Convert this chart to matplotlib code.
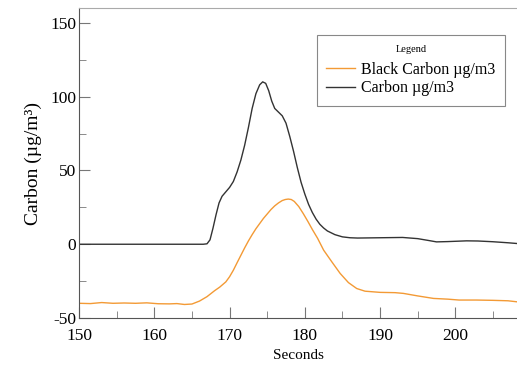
import matplotlib.pyplot as plt
from matplotlib.ticker import MultipleLocator

plt.rcParams['font.family'] = ['Liberation Serif', 'DejaVu Serif']
plt.rcParams['axes.unicode_minus'] = False

# Carbon ug/m3 (black)
carbon_t = [150, 155, 160, 165, 166.5, 167, 167.4, 167.8, 168.2, 168.6, 169, 169.5,
            170, 170.5, 171, 171.5, 172, 172.5, 173, 173.5, 174, 174.4, 174.8,
            175.2, 175.6, 176, 176.5, 177, 177.5, 178, 178.5, 179, 179.5, 180,
            180.5, 181, 181.5, 182, 182.5, 183, 184, 185, 186, 187, 190, 193,
            195, 196.5, 197.5, 199, 201.5, 203, 205, 207, 208.2]
carbon_v = [0, 0, 0, 0, 0, 0.3, 3, 11, 20, 28, 32.5, 35.5,
            38.5, 42.5, 49, 57, 67, 79, 92, 102, 108, 110, 109,
            104, 97, 92, 89.5, 87, 82, 73, 63, 52, 42, 34,
            27, 21.5, 17, 13.5, 11, 9, 6.5, 5, 4.4, 4.2, 4.4, 4.6,
            3.8, 2.5, 1.6, 1.8, 2.3, 2.2, 1.7, 1.0, 0.5]

# Black Carbon ug/m3 (orange)
bc_t = [150, 151.5, 153, 154.5, 156, 157.5, 159, 160.5, 162, 163, 164, 165,
        166, 167, 168, 168.7, 169.5, 170, 170.5, 171, 171.5, 172, 172.5, 173,
        173.5, 174, 174.5, 175, 175.5, 176, 176.5, 177, 177.4, 177.8, 178.2,
        178.6, 179.2, 179.8, 180.4, 181, 181.7, 182.5, 183.6, 184.7, 185.8,
        186.9, 188, 190, 192, 193.1, 195, 197.1, 199, 200.5, 202.8, 205, 207,
        208.2]
bc_v = [-40, -40.2, -39.5, -40, -39.8, -40, -39.7, -40.3, -40.4, -40.2, -40.8, -40.5,
        -38.5, -35.5, -31.5, -29, -25.5, -22, -17.6, -12.5, -7.5, -2.5, 2.2, 6.5,
        10.5, 14, 17.5, 20.5, 23.5, 26, 28, 29.6, 30.3, 30.6, 30.3,
        29, 25.5, 20.7, 15.5, 10, 4, -4, -12, -19.8, -26,
        -30, -31.8, -32.6, -32.8, -33.3, -35, -36.7, -37.2, -37.8, -37.8, -38, -38.3,
        -39]

fig = plt.figure(figsize=(5.17, 3.66), dpi=100)
ax = fig.add_axes([0.153, 0.131, 0.847, 0.847])

ax.plot(bc_t, bc_v, color='#f39a35', lw=1.0, label='Black Carbon µg/m3')
ax.plot(carbon_t, carbon_v, color='#333333', lw=1.0, label='Carbon µg/m3')

ax.set_xlim(150, 208.2)
ax.set_ylim(-50, 160)
ax.xaxis.set_major_locator(MultipleLocator(10))
ax.xaxis.set_minor_locator(MultipleLocator(5))
ax.set_yticks([-50, 0, 50, 100, 150])
ax.yaxis.set_minor_locator(MultipleLocator(25))
ax.tick_params(which='both', direction='in', color='#777777', labelsize=12.5)
ax.tick_params(which='major', length=8)
ax.tick_params(which='minor', length=5)
ax.tick_params(axis='y', pad=2)
ax.tick_params(axis='x', pad=7)

for side in ['left', 'bottom']:
    ax.spines[side].set_color('#555555')
ax.spines['top'].set_color('#aaaaaa')
ax.spines['right'].set_visible(False)

ax.set_xlabel('Seconds', fontsize=11, labelpad=4)
ax.set_ylabel('Carbon (µg/m³)', fontsize=14, labelpad=6)

leg = ax.legend(title='Legend', loc='upper right', bbox_to_anchor=(0.973, 0.913),
                borderaxespad=0,
                fontsize=11.5, title_fontsize=7.5, frameon=True, fancybox=False,
                framealpha=1, edgecolor='#888888', handlelength=1.8,
                handletextpad=0.4, borderpad=0.6, labelspacing=0.15)
leg.get_frame().set_linewidth(0.8)
leg._legend_box.sep = 6

fig.savefig('out.png', dpi=100)
